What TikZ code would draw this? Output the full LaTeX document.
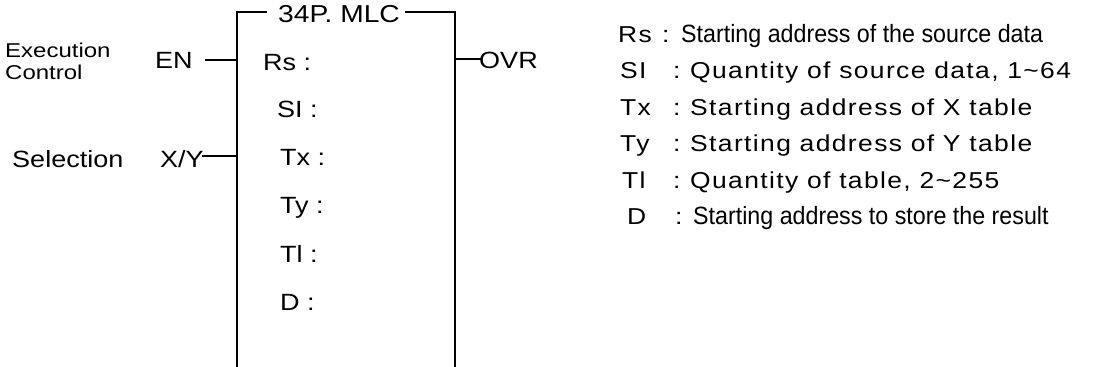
\documentclass[tikz,border=0pt]{standalone}
\usepackage{fontspec}
\setmainfont{Liberation Sans}
\newfontfamily\wideb[FakeStretch=1.15]{Liberation Sans}
\newfontfamily\wides[FakeStretch=1.2]{Liberation Sans}
\newfontfamily\wider[FakeStretch=1.15,LetterSpace=6]{Liberation Sans}
\newfontfamily\narrw[FakeStretch=0.93]{Liberation Sans}
\begin{document}
\begin{tikzpicture}[x=1pt,y=-1pt,
  wire/.style={line width=1.6pt},
  lbl/.style={inner sep=0pt, anchor=base west, font=\wideb\fontsize{23.5}{23.5}\selectfont},
  side/.style={inner sep=0pt, anchor=base west, font=\wides\fontsize{20}{20}\selectfont},
  desc/.style={inner sep=0pt, anchor=base west, font=\wider\fontsize{23}{23}\selectfont},
  descn/.style={inner sep=0pt, anchor=base west, font=\narrw\fontsize{25}{25}\selectfont}]
\useasboundingbox (0,0) rectangle (1093,367);
% box
\node[lbl,font=\wideb\fontsize{24.5}{24.5}\selectfont] (title) at (278,22) {34P. MLC};
\coordinate (bl) at (237,367);
\coordinate (tl) at (237,12);
\coordinate (tl2) at (267,12);
\coordinate (tr2) at (405,12);
\coordinate (tr) at (455,12);
\coordinate (br) at (455,367);
\draw[wire] (bl) -- (tl) -- (tl2);
\draw[wire] (tr2) -- (tr) -- (br);
% inputs
\node[side] (exec) at (5,57) {Execution};
\node[side] (ctrl) at (5,79) {Control};
\node[lbl] (en) at (155,68) {EN};
\coordinate (enA) at (205,60);
\coordinate (enB) at (237,60);
\draw[wire] (enA) -- (enB);
\node[lbl] (selc) at (12,167) {Selection};
\node[lbl] (xy) at (160,167) {X/Y};
\coordinate (xyA) at (202,156);
\coordinate (xyB) at (237,156);
\draw[wire] (xyA) -- (xyB);
% output
\coordinate (ovA) at (455,59);
\coordinate (ovB) at (482,59);
\draw[wire] (ovA) -- (ovB);
\node[lbl] (ovr) at (479,68) {OVR};
% inner labels
\node[lbl] (rs) at (263,70) {Rs :};
\node[lbl] (si) at (277,117) {SI :};
\node[lbl] (tx) at (280,165) {Tx :};
\node[lbl] (ty) at (280,213) {Ty :};
\node[lbl] (tlb) at (280,262) {Tl :};
\node[lbl] (d) at (280,310) {D :};
% descriptions
\node[desc] (r1a) at (618,42) {Rs};
\node[desc] (r1b) at (662,42) {:};
\node[descn] (r1c) at (681,42) {Starting address of the source data};
\node[desc] (r2a) at (620,78.5) {SI};
\node[desc] (r2b) at (673,78.5) {:};
\node[desc] (r2c) at (690,78.5) {Quantity of source data, 1\string~64};
\node[desc] (r3a) at (620,115) {Tx};
\node[desc] (r3b) at (673,115) {:};
\node[desc] (r3c) at (690,115) {Starting address of X table};
\node[desc] (r4a) at (620,151.5) {Ty};
\node[desc] (r4b) at (673,151.5) {:};
\node[desc] (r4c) at (690,151.5) {Starting address of Y table};
\node[desc] (r5a) at (622,188) {Tl};
\node[desc] (r5b) at (673,188) {:};
\node[desc] (r5c) at (690,188) {Quantity of table, 2\string~255};
\node[desc] (r6a) at (627,224.5) {D};
\node[desc] (r6b) at (675,224.5) {:};
\node[descn] (r6c) at (693,224.5) {Starting address to store the result};
\end{tikzpicture}
\end{document}
